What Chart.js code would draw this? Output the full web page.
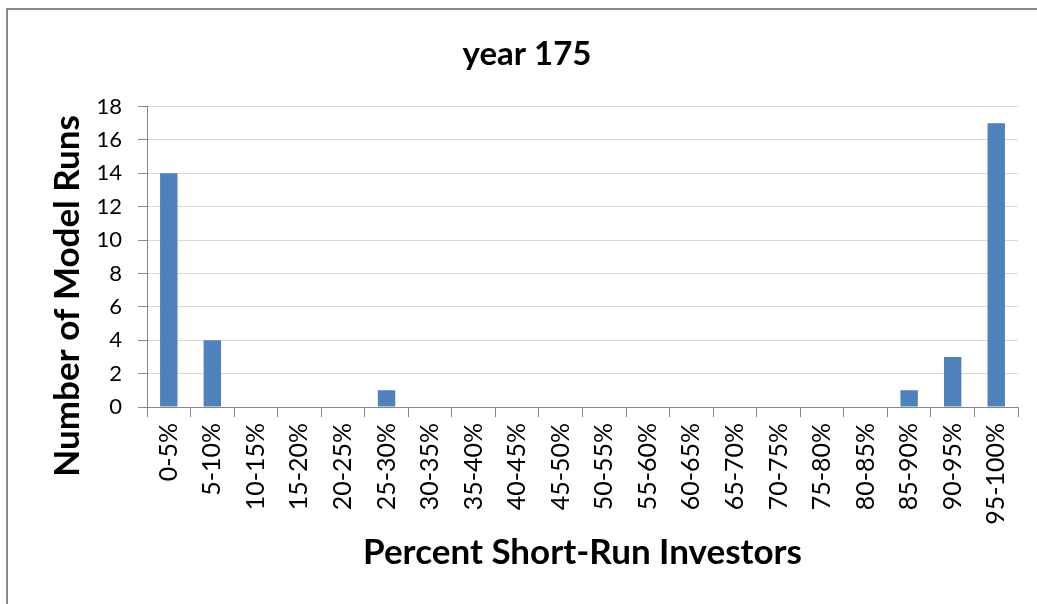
<!DOCTYPE html>
<html>
<head>
<meta charset="utf-8">
<script src="https://cdn.jsdelivr.net/npm/chart.js@4.4.1/dist/chart.umd.min.js"></script>
<style>
  html, body { margin: 0; padding: 0; background: #fff; }
  #wrap { width: 1037px; height: 604px; position: relative; }
</style>
</head>
<body>
<div id="wrap"><canvas id="histo"></canvas></div>
<script>
// ===========================
// Données
// ===========================
const tranches = ['0-5%', '5-10%', '10-15%', '15-20%', '20-25%', '25-30%', '30-35%', '35-40%',
  '40-45%', '45-50%', '50-55%', '55-60%', '60-65%', '65-70%', '70-75%', '75-80%',
  '80-85%', '85-90%', '90-95%', '95-100%'];
const nbRuns = [14, 4, 0, 0, 0, 1, 0, 0, 0, 0, 0, 0, 0, 0, 0, 0, 0, 1, 3, 17];
const titre = 'year 175';
const titreX = 'Percent Short-Run Investors';
const titreY = 'Number of Model Runs';

const police = 'Lato, "Open Sans", sans-serif';

// cadre gris autour du graphique
const cadre = {
  id: 'cadre',
  beforeDraw(chart) {
    const c = chart.ctx;
    c.save();
    c.fillStyle = '#fff';
    c.fillRect(0, 0, chart.width, chart.height);
    c.strokeStyle = '#8a8a8a';
    c.lineWidth = 2;
    c.strokeRect(7, 9, chart.width + 20, chart.height + 20);
    c.restore();
  }
};

// titre vertical de l'axe Y (placé un peu plus bas que le centre, comme dans Excel)
const titreAxeY = {
  id: 'titreAxeY',
  afterDraw(chart) {
    const c = chart.ctx;
    const area = chart.chartArea;
    c.save();
    c.translate(68, area.top + (area.bottom - area.top) * 0.63);
    c.rotate(-Math.PI / 2);
    c.fillStyle = '#000';
    c.font = 'bold 35px ' + police;
    c.textAlign = 'center';
    c.textBaseline = 'middle';
    c.fillText(titreY, 0, 0);
    c.restore();
  }
};

const ctx = document.getElementById('histo').getContext('2d');
const histoChart = new Chart(ctx, {
  type: 'bar',
  data: {
    labels: tranches,
    datasets: [{
      data: nbRuns,
      backgroundColor: '#4f81bd',
      borderWidth: 0,
      barPercentage: 0.4,
      categoryPercentage: 1.0
    }]
  },
  options: {
    responsive: true,
    maintainAspectRatio: false,
    animation: false,
    layout: { padding: { left: 36, right: 19, top: 0, bottom: 0 } },
    plugins: {
      legend: { display: false },
      tooltip: { enabled: false },
      title: {
        display: true,
        text: titre,
        color: '#000',
        font: { family: police, size: 33, weight: 'bold' },
        padding: { top: 35, bottom: 32 }
      }
    },
    scales: {
      x: {
        grid: {
          offset: true,
          drawOnChartArea: false,
          drawTicks: true,
          tickLength: 10,
          tickColor: '#868686'
        },
        border: { color: '#868686', width: 1 },
        ticks: {
          color: '#000',
          font: { family: police, size: 25 },
          minRotation: 90,
          maxRotation: 90,
          padding: 6,
          autoSkip: false
        },
        title: {
          display: true,
          text: titreX,
          color: '#000',
          font: { family: police, size: 35, weight: 'bold' },
          padding: { top: 0, bottom: 30 }
        },
        afterFit(scale) { scale.height = 197; }
      },
      y: {
        min: 0,
        max: 18,
        ticks: {
          stepSize: 2,
          color: '#000',
          font: { family: police, size: 22 },
          padding: 16
        },
        grid: {
          color: '#d9d9d9',
          tickColor: '#868686',
          tickLength: 9,
          lineWidth: 1
        },
        border: { color: '#868686', width: 1 },
        afterFit(scale) { scale.width = 111; }
      }
    }
  },
  plugins: [cadre, titreAxeY]
});
</script>
</body>
</html>
